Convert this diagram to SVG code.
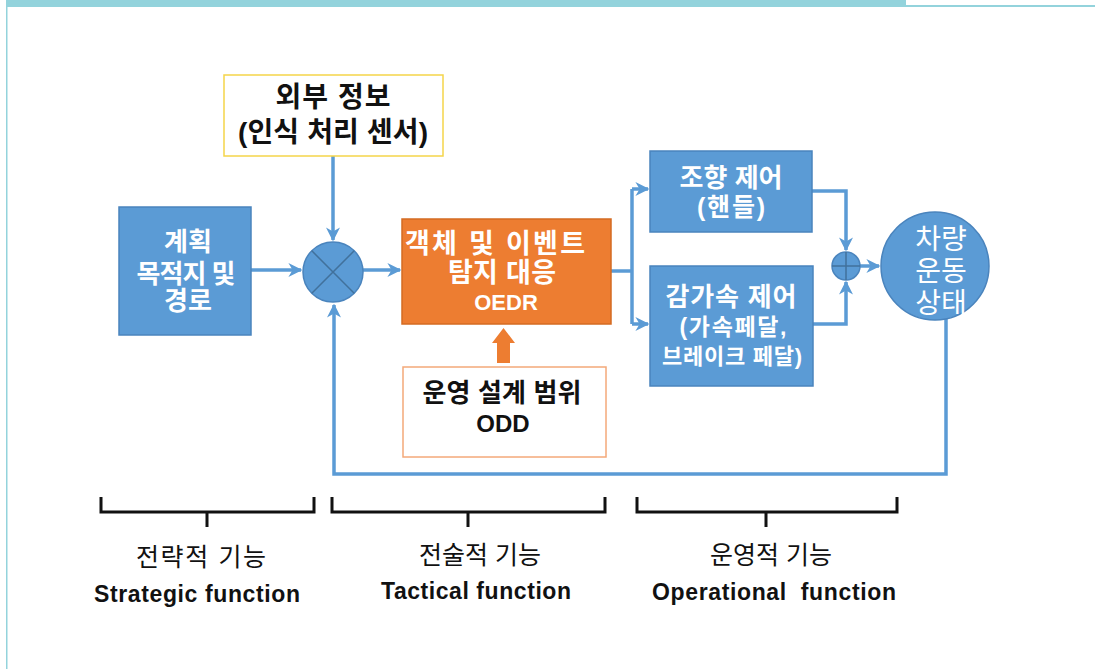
<svg xmlns="http://www.w3.org/2000/svg" width="1095" height="669" viewBox="0 0 1095 669">
  <defs>
    <style>
      .ko { font-family: "Liberation Sans", "Noto Sans CJK KR", sans-serif; }
      .wb { fill: #ffffff; font-weight: bold; text-anchor: middle; }
      .kb { fill: #111111; font-weight: bold; text-anchor: middle; }
      .kn { fill: #111111; text-anchor: middle; }
      .box { fill: #5b9bd5; stroke: #4a84bd; stroke-width: 1.5; }
      .conn { fill: none; stroke: #5b9bd5; stroke-width: 3.5; }
      .brace { fill: none; stroke: #111111; stroke-width: 3; }
    </style>
    <marker id="ah" viewBox="0 0 10 10" refX="9" refY="5" markerWidth="4" markerHeight="4" orient="auto" markerUnits="strokeWidth">
      <path d="M0,0 L10,5 L0,10 L3,5 Z" fill="#5b9bd5"/>
    </marker>
  </defs>

  <!-- page frame -->
  <rect x="6" y="0" width="900" height="7" fill="#93d3dc"/>
  <rect x="906" y="5" width="189" height="2" fill="#93d3dc"/>
  <rect x="6" y="7" width="1.5" height="662" fill="#93d3dc"/>

  <!-- connectors -->
  <g id="connectors">
    <path class="conn" d="M251,270 L301,270" marker-end="url(#ah)"/>
    <path class="conn" d="M333,156 L333,240" marker-end="url(#ah)"/>
    <path class="conn" d="M363,270 L400,270" marker-end="url(#ah)"/>
    <path class="conn" d="M611,271 L632,271"/>
    <path class="conn" d="M632,189 L632,324"/>
    <path class="conn" d="M632,189 L648,189" marker-end="url(#ah)"/>
    <path class="conn" d="M632,324 L648,324" marker-end="url(#ah)"/>
    <path class="conn" d="M812,191 L846,191 L846,250" marker-end="url(#ah)"/>
    <path class="conn" d="M813,324 L846,324 L846,282" marker-end="url(#ah)"/>
    <path class="conn" d="M860,266 L879,266" marker-end="url(#ah)"/>
    <path class="conn" d="M946,318 L946,474 L334,474 L334,305" marker-end="url(#ah)"/>
    <path d="M497,363 L497,343 L492,343 L503.5,328 L515,343 L510,343 L510,363 Z" fill="#ed7d31"/>
  </g>

  <!-- nodes -->
  <g id="node-plan">
    <rect class="box" x="119" y="207" width="132" height="128"/>
    <text class="ko wb" x="188" y="251" font-size="26">계획</text>
    <text class="ko wb" x="186" y="283" font-size="26" textLength="99" lengthAdjust="spacing">목적지 및</text>
    <text class="ko wb" x="188" y="310" font-size="26">경로</text>
  </g>

  <g id="node-external">
    <rect x="224" y="75" width="219" height="81" fill="#ffffff" stroke="#f5d54a" stroke-width="1.5"/>
    <text class="ko kb" x="333" y="107" font-size="28" textLength="115" lengthAdjust="spacing">외부 정보</text>
    <text class="ko kb" x="333" y="142" font-size="28" textLength="190" lengthAdjust="spacing">(인식 처리 센서)</text>
  </g>

  <g id="node-mix">
    <circle cx="333" cy="272" r="30" fill="#5b9bd5" stroke="#4a84bd" stroke-width="1.5"/>
    <path d="M311.8,250.8 L354.2,293.2 M354.2,250.8 L311.8,293.2" stroke="#41719c" stroke-width="1.5"/>
  </g>

  <g id="node-oedr">
    <rect x="402" y="219" width="209" height="105" fill="#ed7d31" stroke="#d46b22" stroke-width="1.5"/>
    <text class="ko wb" x="495" y="253" font-size="27" textLength="180" lengthAdjust="spacing">객체 및 이벤트</text>
    <text class="ko wb" x="502" y="282" font-size="27" textLength="108" lengthAdjust="spacing">탐지 대응</text>
    <text class="ko wb" x="506" y="310" font-size="22">OEDR</text>
  </g>

  <g id="node-odd">
    <rect x="403" y="367" width="203" height="90" fill="#ffffff" stroke="#f4a97a" stroke-width="1.5"/>
    <text class="ko kb" x="502" y="402" font-size="26" textLength="159" lengthAdjust="spacing">운영 설계 범위</text>
    <text class="ko kb" x="503" y="432" font-size="24">ODD</text>
  </g>

  <g id="node-steer">
    <rect class="box" x="650" y="151" width="162" height="81"/>
    <text class="ko wb" x="731" y="187" font-size="26" textLength="103" lengthAdjust="spacing">조향 제어</text>
    <text class="ko wb" x="731" y="216" font-size="25" textLength="68" lengthAdjust="spacing">(핸들)</text>
  </g>

  <g id="node-accel">
    <rect class="box" x="650" y="266" width="163" height="120"/>
    <text class="ko wb" x="731" y="306" font-size="26" textLength="131" lengthAdjust="spacing">감가속 제어</text>
    <text class="ko wb" x="733" y="335" font-size="23" textLength="107" lengthAdjust="spacing">(가속페달,</text>
    <text class="ko wb" x="732" y="364" font-size="22" textLength="140" lengthAdjust="spacing">브레이크 페달)</text>
  </g>

  <g id="node-sum">
    <circle cx="846" cy="266" r="14" fill="#5b9bd5" stroke="#4a84bd" stroke-width="1.5"/>
    <path d="M832,266 L860,266 M846,252 L846,280" stroke="#41719c" stroke-width="1.5"/>
  </g>

  <g id="node-vehicle">
    <circle cx="935" cy="266" r="54" fill="#5b9bd5" stroke="#4a84bd" stroke-width="1.5"/>
    <text class="ko" x="941" y="249" font-size="28" fill="#ffffff" text-anchor="middle">차량</text>
    <text class="ko" x="941" y="281" font-size="28" fill="#ffffff" text-anchor="middle">운동</text>
    <text class="ko" x="941" y="313" font-size="28" fill="#ffffff" text-anchor="middle">상태</text>
  </g>

  <g id="brace-strategic">
    <path class="brace" d="M101,497 L101,512 L314,512 L314,497 M207,512 L207,527"/>
    <text class="ko kn" x="201" y="566" font-size="25" textLength="130" lengthAdjust="spacing">전략적 기능</text>
    <text class="ko kb" x="197" y="602" font-size="23" textLength="206" lengthAdjust="spacing">Strategic function</text>
  </g>

  <g id="brace-tactical">
    <path class="brace" d="M332,497 L332,512 L605,512 L605,497 M468,512 L468,527"/>
    <text class="ko kn" x="480" y="564" font-size="25" textLength="122" lengthAdjust="spacing">전술적 기능</text>
    <text class="ko kb" x="476" y="599" font-size="23" textLength="190" lengthAdjust="spacing">Tactical function</text>
  </g>

  <g id="brace-operational">
    <path class="brace" d="M637,497 L637,512 L897,512 L897,497 M766,512 L766,527"/>
    <text class="ko kn" x="771" y="564" font-size="25" textLength="122" lengthAdjust="spacing">운영적 기능</text>
    <text class="ko kb" x="774" y="600" font-size="23" textLength="244" lengthAdjust="spacing" xml:space="preserve">Operational  function</text>
  </g>
</svg>
